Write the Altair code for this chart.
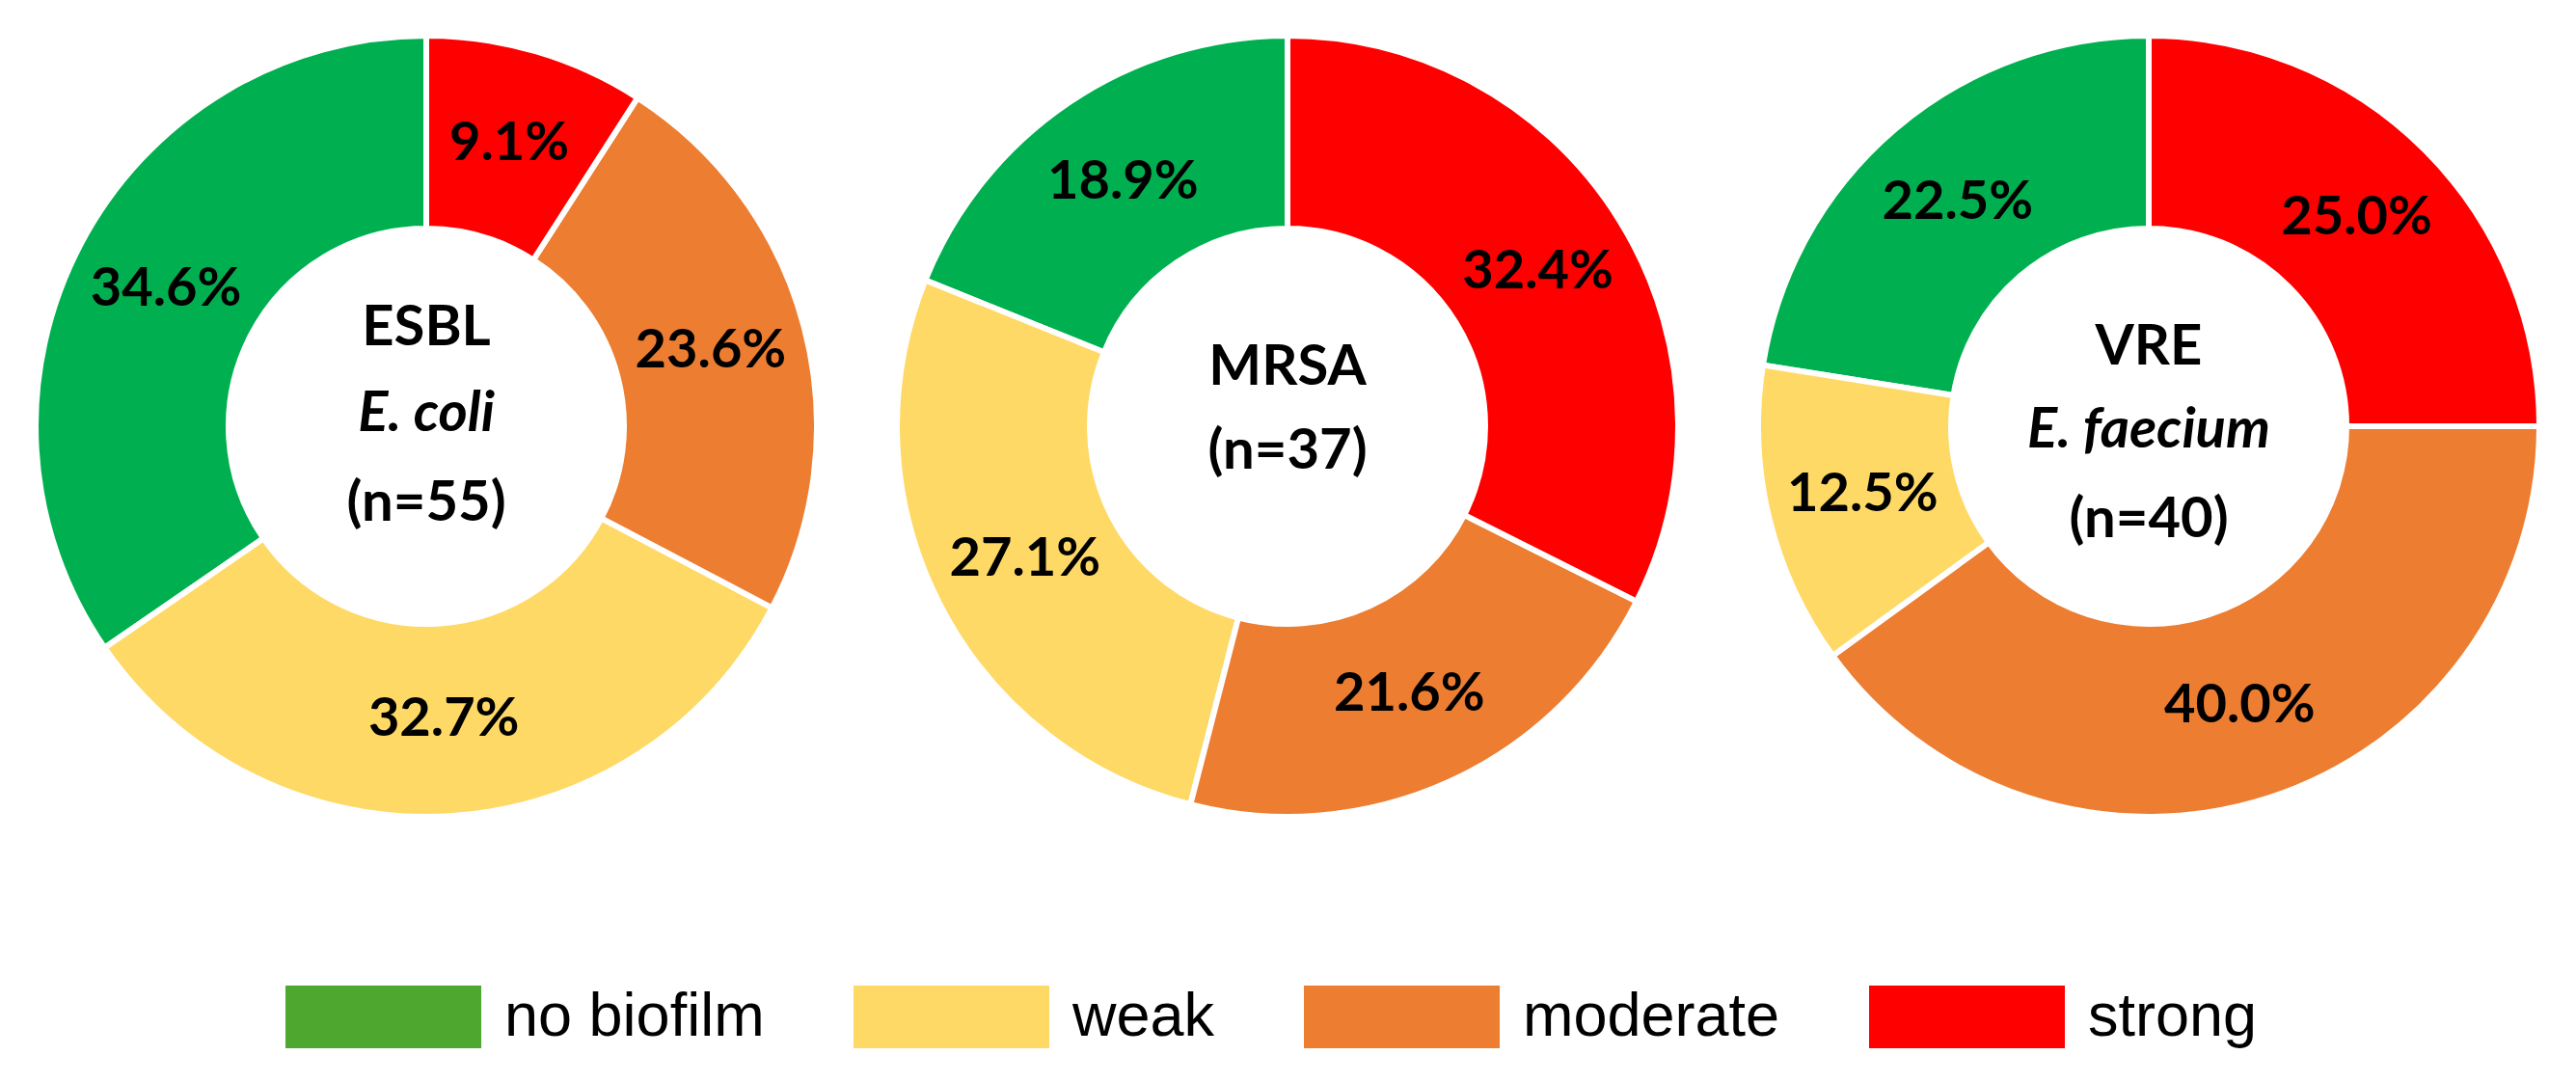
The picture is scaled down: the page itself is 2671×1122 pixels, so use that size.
import altair as alt
import pandas as pd

# ---- data ----
categories = ["no biofilm", "weak", "moderate", "strong"]
stack_rank = [3, 2, 1, 0]          # clockwise from 12 o'clock: strong, moderate, weak, no biofilm
pie_colors = ["#00B050", "#FFD966", "#ED7D31", "#FF0000"]
legend_colors = ["#4EA72E", "#FFD966", "#ED7D31", "#FF0000"]

esbl_pct = [34.6, 32.7, 23.6, 9.1]
mrsa_pct = [18.9, 27.1, 21.6, 32.4]
vre_pct = [22.5, 12.5, 40.0, 25.0]

esbl_title = ["ESBL", "E. coli", "(n=55)"]
mrsa_title = ["MRSA", "(n=37)"]
vre_title = ["VRE", "E. faecium", "(n=40)"]

# ---- styles ----
W = 858
SPACING = 35
OUTER, INNER, LABEL_R = 405, 205, 305
LABEL_FONT = "Lato"
FS = 56

panels = [
    (esbl_pct, esbl_title, [-84, 5, 98], [False, True, False]),
    (mrsa_pct, mrsa_title, [-43, 44], [False, False]),
    (vre_pct, vre_title, [-64, 22, 115], [False, True, False]),
]


def make_panel(pct, title_lines, dys, italics):
    df = pd.DataFrame({"category": categories, "value": pct, "rank": stack_rank})
    base = alt.Chart(df).transform_calculate(
        label="format(datum.value, '.1f') + '%'"
    )
    arc = base.mark_arc(outerRadius=OUTER, innerRadius=INNER, stroke="white", strokeWidth=6).encode(
        theta=alt.Theta("value:Q", stack=True),
        order=alt.Order("rank:Q"),
        color=alt.Color("category:N", scale=alt.Scale(domain=categories, range=pie_colors), legend=None),
    )
    txt = base.mark_text(radius=LABEL_R, font=LABEL_FONT, fontSize=FS, fontWeight="bold",
                         color="black", align="center", baseline="middle").encode(
        theta=alt.Theta("value:Q", stack=True),
        order=alt.Order("rank:Q"),
        detail="category:N",
        text="label:N",
    )
    layers = [arc, txt]
    for line, dy, it in zip(title_lines, dys, italics):
        kw = dict(font=LABEL_FONT, fontSize=FS + 2, fontWeight="bold", color="black",
                  align="center", baseline="alphabetic", dy=dy)
        if it:
            kw["fontStyle"] = "italic"
        layers.append(alt.Chart(pd.DataFrame({"t": [line]})).mark_text(**kw).encode(text="t:N"))
    return alt.layer(*layers).properties(width=W, height=W)


charts = [make_panel(p, t, d, i) for (p, t, d, i) in panels]
top = alt.hconcat(*charts, spacing=SPACING)

leg_df = pd.DataFrame({"category": categories})
legend_chart = alt.Chart(leg_df).mark_square(size=0, opacity=1).encode(
    fill=alt.Fill(
        "category:N",
        sort=categories,
        scale=alt.Scale(domain=categories, range=legend_colors),
        legend=alt.Legend(
            title=None, orient="none", legendX=283, legendY=52,
            direction="horizontal",
            symbolType="M-1,-0.32L1,-0.32L1,0.32L-1,0.32Z",
            symbolSize=203 * 203, symbolStrokeWidth=0, symbolOpacity=1,
            labelFont="Liberation Sans", labelFontSize=63, labelColor="black",
            labelOffset=24, columnPadding=92, labelLimit=1000,
        ),
    )
).properties(width=3 * W + 2 * SPACING, height=200)

chart = (
    alt.vconcat(top, legend_chart, spacing=30)
    .resolve_legend(fill="independent")
    .resolve_scale(fill="independent", color="independent")
    .configure_view(stroke=None)
    .properties(background="white")
)

chart.save("out.html", embed_options={"renderer": "svg", "actions": False})
